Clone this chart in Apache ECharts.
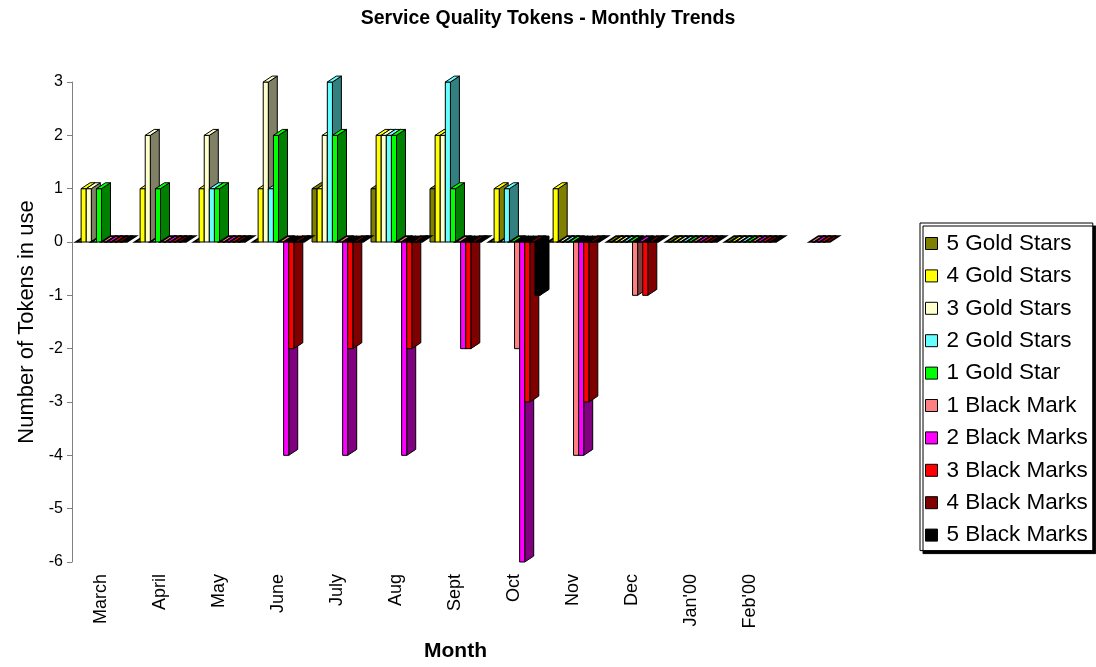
<!DOCTYPE html>
<html>
<head>
<meta charset="utf-8">
<script src="https://cdn.jsdelivr.net/npm/echarts@6/dist/echarts.min.js"></script>
<style>
html,body{margin:0;padding:0;background:#fff;}
#chart{width:1096px;height:667px;}
</style>
</head>
<body>
<div id="chart"></div>
<script>
// ---- data ----
const categories = ['March','April','May','June','July','Aug','Sept','Oct','Nov','Dec',"Jan'00","Feb'00",''];
const seriesNames = ['5 Gold Stars','4 Gold Stars','3 Gold Stars','2 Gold Stars','1 Gold Star',
                     '1 Black Mark','2 Black Marks','3 Black Marks','4 Black Marks','5 Black Marks'];
const gold5  = [0,0,0,0,1,1,1,0,0,0,0,0,null];
const gold4  = [1,1,1,1,1,2,2,1,1,0,0,0,null];
const gold3  = [1,2,2,3,2,2,2,0,0,0,0,0,null];
const gold2  = [0,0,1,1,3,2,3,1,0,0,0,0,null];
const gold1  = [1,1,1,2,2,2,1,0,0,0,0,0,null];
const black1 = [0,0,0,0,0,0,0,-2,-4,-1,0,0,0];
const black2 = [0,0,0,-4,-4,-4,-2,-6,-4,0,0,0,0];
const black3 = [0,0,0,-2,-2,-2,-2,-3,-3,-1,0,0,0];
const black4 = [0,0,0,0,0,0,0,0,0,0,0,0,0];
const black5 = [0,0,0,0,0,0,0,-1,0,0,0,0,null];
const yTicks = [-6,-5,-4,-3,-2,-1,0,1,2,3];

// ---- styles ----
const colors = ['#808000','#FFFF00','#FFFFCC','#66FFFF','#00FF00','#FF8080','#FF00FF','#FF0000','#800000','#000000'];
const sideColors = ['#404000','#808000','#808066','#338080','#008000','#804040','#800080','#800000','#400000','#000000'];
const FONT = "'Liberation Sans', Arial, sans-serif";
const allSeries = [gold5,gold4,gold3,gold2,gold1,black1,black2,black3,black4,black5];

function renderItem(params, api) {
  const k = params.seriesIndex;
  const i = api.value(0), v = api.value(1);
  const base = api.coord([i, 0]);
  const band = api.size([1, 0])[0];
  const slot = band * 0.0865;
  const dx = band * 0.152, dy = band * 0.1;
  const x0 = base[0] - band / 2 + band * 0.068 + k * slot;
  const x1 = x0 + slot;
  const y0 = base[1];
  const yv = api.coord([i, v])[1];
  const top = Math.min(y0, yv), bot = Math.max(y0, yv);
  const stroke = {stroke: '#000', lineWidth: 1};
  const children = [];
  if (bot - top > 0.5) {
    children.push({type: 'polygon', shape: {points: [[x1, top], [x1 + dx, top - dy], [x1 + dx, bot - dy], [x1, bot]]},
      style: Object.assign({fill: sideColors[k]}, stroke)});
    children.push({type: 'rect', shape: {x: x0, y: top, width: slot, height: bot - top},
      style: Object.assign({fill: colors[k]}, stroke)});
  }
  children.push({type: 'polygon', shape: {points: [[x0, top], [x1, top], [x1 + dx, top - dy], [x0 + dx, top - dy]]},
    style: {fill: v < 0 ? '#000' : colors[k], stroke: '#000', lineWidth: v === 0 ? 1.7 : 1}});
  return {type: 'group', children: children};
}

const series = allSeries.map((arr, k) => ({
  name: seriesNames[k],
  type: 'custom',
  renderItem: renderItem,
  clip: false,
  itemStyle: {color: colors[k], borderColor: '#000', borderWidth: 1},
  encode: {x: 0, y: 1},
  data: arr.map((v, i) => v === null ? null : [i, v]).filter(d => d !== null)
}));

const chart = echarts.init(document.getElementById('chart'));
chart.setOption({
  animation: false,
  backgroundColor: '#fff',
  title: {
    text: 'Service Quality Tokens - Monthly Trends',
    left: 'center', top: 9, padding: 0,
    textStyle: {fontFamily: FONT, fontSize: 19.5, fontWeight: 'bold', color: '#000'}
  },
  legend: {
    orient: 'vertical', left: 920, top: 223,
    padding: [9, 5, 4, 5],
    itemGap: 9.4, itemWidth: 12, itemHeight: 12,
    icon: 'rect',
    backgroundColor: '#fff', borderColor: '#000', borderWidth: 1,
    shadowColor: '#000', shadowOffsetX: 3, shadowOffsetY: 3, shadowBlur: 0,
    itemStyle: {borderColor: '#000', borderWidth: 1},
    textStyle: {fontFamily: FONT, fontSize: 22.5, lineHeight: 23, color: '#000', padding: [0, 0, 0, 4]},
    data: seriesNames
  },
  grid: {left: 72, right: 257, top: 82, bottom: 105, containLabel: false},
  xAxis: {
    type: 'category', data: categories,
    name: 'Month', nameLocation: 'middle', nameGap: 79,
    nameTextStyle: {fontFamily: FONT, fontSize: 21, fontWeight: 'bold', color: '#000'},
    axisLine: {show: false}, axisTick: {show: false},
    axisLabel: {rotate: 90, margin: 12, fontFamily: FONT, fontSize: 18, color: '#000', interval: 0},
    splitLine: {show: false}
  },
  yAxis: {
    type: 'value', min: yTicks[0], max: yTicks[yTicks.length - 1], interval: 1,
    name: 'Number of Tokens in use', nameLocation: 'middle', nameGap: 30, nameRotate: 90,
    nameTextStyle: {fontFamily: FONT, fontSize: 22, color: '#000'},
    axisLine: {show: true, lineStyle: {color: '#808080', width: 1}},
    axisTick: {show: true, inside: false, length: 5, lineStyle: {color: '#808080'}},
    axisLabel: {margin: 9, fontFamily: FONT, fontSize: 16, color: '#000'},
    splitLine: {show: false}
  },
  series: series
});
</script>
</body>
</html>
